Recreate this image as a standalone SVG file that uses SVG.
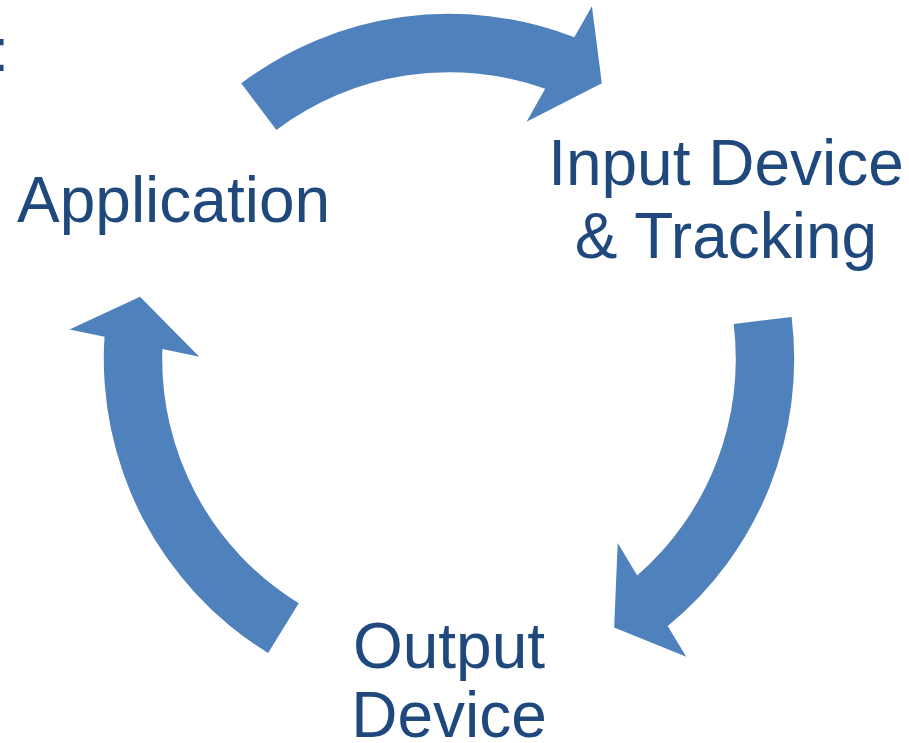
<svg xmlns="http://www.w3.org/2000/svg" width="909" height="743" viewBox="0 0 909 743">
  <style>
    .label { font-family: "Liberation Sans", Arial, sans-serif; font-size: 64px; fill: #1F497D; }
    .arrow { fill: #4F81BD; stroke: none; }
  </style>
  <rect width="909" height="743" fill="#FFFFFF"/>

  <!-- Stray colon clipped at the left edge -->
  <text class="label" x="-8" y="71" style="font-size:62px">:</text>

  <!-- Curved arrows around a common centre (449,359); each is drawn with its tip on the +x axis and rotated into place -->
  <g id="connectors">
    <!-- Application -> Input Device & Tracking -->
    <path class="arrow" transform="translate(449,359) rotate(-61)"
          d="M140.41,-315.36 A345.2,345.2 0 0 1 342.07,-46.37 L377.90,-46.07 L315.2,0 L245.20,-47.22 L282.94,-46.89 A286.8,286.8 0 0 0 116.65,-262.01 Z"/>
    <!-- Input Device & Tracking -> Output Device -->
    <path class="arrow" transform="translate(449,359) rotate(58.4)"
          d="M143.70,-313.87 A345.2,345.2 0 0 1 342.07,-46.37 L377.90,-46.07 L315.2,0 L245.20,-47.22 L282.94,-46.89 A286.8,286.8 0 0 0 119.39,-260.77 Z"/>
    <!-- Output Device -> Application -->
    <path class="arrow" transform="translate(449,359) rotate(-168.6)"
          d="M119.20,-323.97 A345.2,345.2 0 0 1 342.07,-46.37 L377.90,-46.07 L315.2,0 L245.20,-47.22 L282.94,-46.89 A286.8,286.8 0 0 0 99.03,-269.16 Z"/>
  </g>

  <g id="application">
    <text class="label" x="17" y="222">Application</text>
  </g>

  <g id="input-device">
    <text class="label" x="726" y="185" text-anchor="middle">Input Device</text>
    <text class="label" x="726" y="258" text-anchor="middle">&amp; Tracking</text>
  </g>

  <g id="output-device">
    <text class="label" x="449" y="668" text-anchor="middle">Output</text>
    <text class="label" x="449" y="737" text-anchor="middle">Device</text>
  </g>
</svg>
